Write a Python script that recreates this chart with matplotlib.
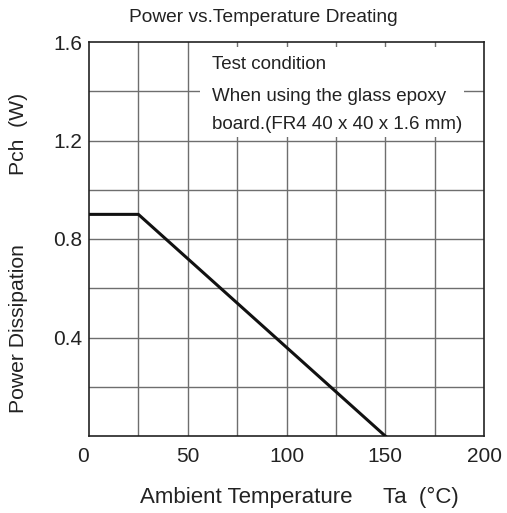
import matplotlib
matplotlib.use("Agg")
import matplotlib.pyplot as plt
import matplotlib.transforms as mtransforms
from matplotlib.patches import Rectangle

temp = [0, 25, 150]
power = [0.9, 0.9, 0.0]
x_ticks = [0, 50, 100, 150, 200]
y_ticks = [0.4, 0.8, 1.2, 1.6]
note_lines = ["Test condition",
              "When using the glass epoxy",
              "board.(FR4 40 x 40 x 1.6 mm)"]
note_y = [1.51, 1.38, 1.265]

plt.rcParams['font.family'] = ['Liberation Sans', 'DejaVu Sans']
W, H = 507, 513
ink = "#222222"

fig = plt.figure(figsize=(W / 100, H / 100), dpi=100)
ax = fig.add_axes([89 / W, 1 - 436 / H, 395 / W, 394 / H])

ax.set_xlim(0, 200)
ax.set_ylim(0, 1.6)
for gx in range(25, 200, 25):
    ax.axvline(gx, color="#6e6e6e", linewidth=1.0, zorder=1)
for gy in [0.2, 0.4, 0.6, 0.8, 1.0, 1.2, 1.4]:
    ax.axhline(gy, color="#6e6e6e", linewidth=1.0, zorder=1)

# white box behind the test-condition note
ax.add_patch(Rectangle((56, 1.215), 134, 0.365, facecolor="white",
                       edgecolor="none", zorder=2))
for line, ty in zip(note_lines, note_y):
    ax.text(62.5, ty, line, fontsize=13.5, va="center", ha="left",
            color=ink, zorder=3)

ax.plot(temp, power, color="#111111", linewidth=2.2, zorder=4)

ax.set_xticks(x_ticks)
ax.set_yticks(y_ticks)
ax.set_yticklabels([f"{v:.1f}" for v in y_ticks])
ax.tick_params(length=0, labelsize=15, colors=ink)
ax.tick_params(axis="x", pad=8)
ax.tick_params(axis="y", pad=5)
# the "0" sits a little left of the corner
lbl0 = ax.get_xticklabels()[0]
lbl0.set_transform(lbl0.get_transform() +
                   mtransforms.ScaledTranslation(-6 / 100, 0, fig.dpi_scale_trans))
for s in ax.spines.values():
    s.set_color(ink)
    s.set_linewidth(1.2)

fig.text(263 / W, 1 - 17 / H, "Power vs.Temperature Dreating", fontsize=13.8,
         color=ink, ha="center", va="center")
fig.text(140 / W, 1 - 497 / H, "Ambient Temperature", fontsize=16,
         color=ink, ha="left", va="center")
fig.text(383 / W, 1 - 497 / H, "Ta  (°C)", fontsize=16,
         color=ink, ha="left", va="center")
fig.text(19 / W, 1 - 413 / H, "Power Dissipation", fontsize=15.2, rotation=90,
         color=ink, ha="center", va="bottom")
fig.text(19 / W, 1 - 175 / H, "Pch  (W)", fontsize=15.2, rotation=90,
         color=ink, ha="center", va="bottom")

fig.savefig("out.png", dpi=100)
